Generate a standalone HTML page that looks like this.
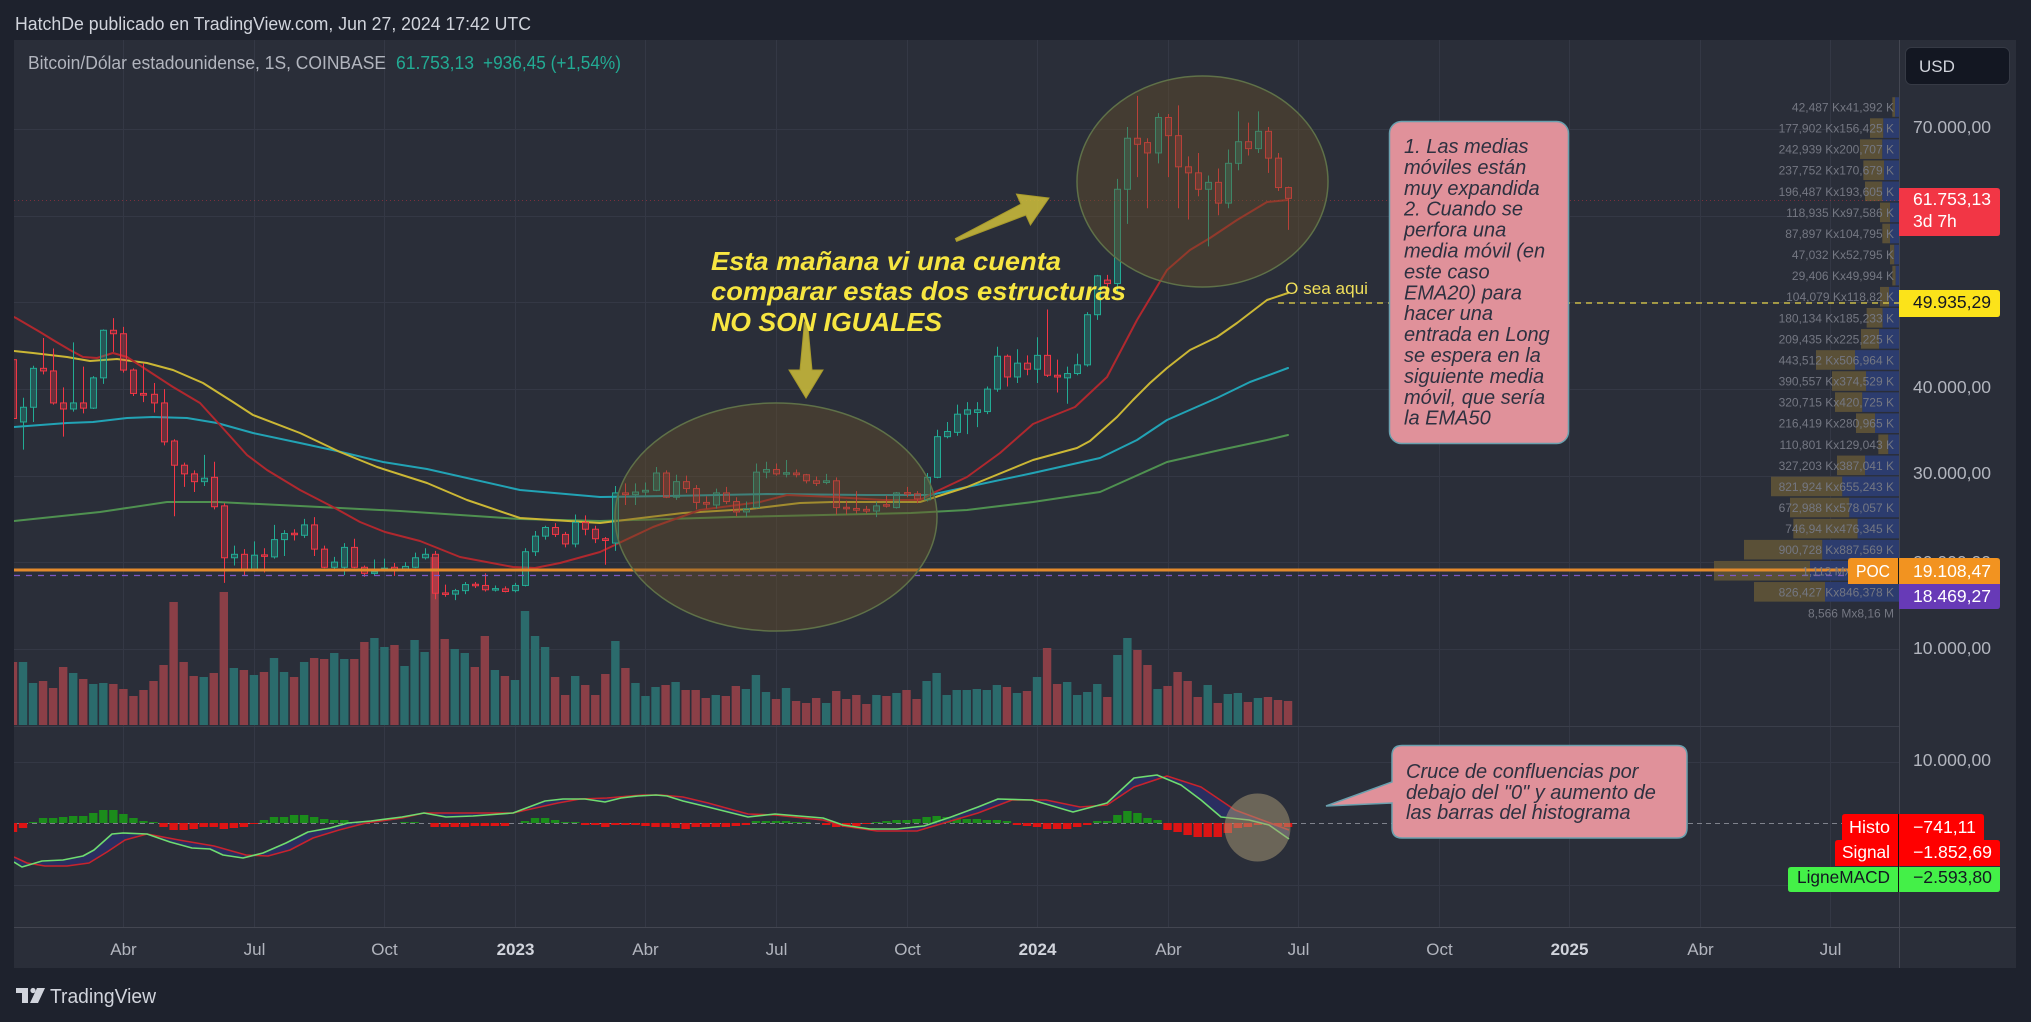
<!DOCTYPE html>
<html><head><meta charset="utf-8"><title>BTCUSD</title>
<style>
html,body{margin:0;padding:0;background:#1e222d;width:2031px;height:1022px;overflow:hidden}
svg{display:block}
text{font-family:"Liberation Sans",sans-serif}
</style></head><body>
<svg id="s" xmlns="http://www.w3.org/2000/svg" width="2031" height="1022" viewBox="0 0 2031 1022">
<defs>
<clipPath id="cm"><rect x="14" y="40" width="1885" height="686"/></clipPath>
<clipPath id="cd"><rect x="14" y="727" width="1885" height="200"/></clipPath>
</defs>
<rect width="2031" height="1022" fill="#1e222d"/>
<rect x="14" y="40" width="2002" height="928" fill="#2a2e39"/>
<g id="grid" stroke="#343845" stroke-width="1"></g>
<line x1="14" y1="726.5" x2="1899" y2="726.5" stroke="#3a3e4a"/>
<line x1="14" y1="927.5" x2="2016" y2="927.5" stroke="#434651"/>
<line x1="1899.5" y1="40" x2="1899.5" y2="968" stroke="#434651"/>

<g clip-path="url(#cm)">
  <g id="vp"></g>
  <g id="vol"></g>
  <g fill="none" stroke-width="2" stroke-linejoin="round" stroke-linecap="round">
    <polyline stroke="#4f9150" points="14,521 100,512 167,502 217,502 300,506 400,511 520,519 600,521 733,517 911,513 967,510 1033,502 1100,492 1167,462 1220,450 1267,440 1288,435"/>
    <polyline stroke="#22a3b5" points="14,427 67,423 93,422 127,418 153,417 187,418 217,423 253,433 300,443 337,451 383,462 427,469 520,490 600,497 667,496 767,494 867,495 930,495 967,487 1033,473 1100,458 1137,440 1167,420 1217,398 1250,382 1288,368"/>
    <polyline stroke="#cbb735" points="14,351 33,353 67,357 90,361 117,359 147,363 173,370 203,383 233,402 253,415 300,433 340,452 377,467 427,483 467,500 520,518 600,523 683,513 750,509 800,503 833,502 920,502 967,487 1033,460 1077,448 1090,441 1117,417 1133,400 1150,383 1167,368 1190,350 1217,337 1237,323 1267,300 1288,293"/>
    <polyline stroke="#b0282e" points="14,317 16,318 40,332 53,340 70,350 83,357 97,358 113,353 127,357 150,372 173,387 200,403 220,425 247,455 267,470 300,490 333,507 360,522 385,532 420,541 460,557 513,567 535,568 560,563 600,552 653,527 700,510 760,502 787,495 833,497 883,500 920,500 933,493 967,477 1000,453 1033,424 1050,417 1075,407 1107,377 1137,320 1167,270 1190,250 1210,238 1237,220 1267,202 1288,200"/>
  </g>
  <g id="cdl"></g>
  <line x1="14" y1="200.5" x2="1899" y2="200.5" stroke="#f23645" stroke-dasharray="1,3" opacity="0.4"/>
  <line x1="1278" y1="303" x2="1899" y2="303" stroke="#e8d44a" stroke-width="1.3" stroke-dasharray="6,5"/>
  <line x1="14" y1="575.5" x2="1899" y2="575.5" stroke="#7e57c2" stroke-width="1.3" stroke-dasharray="6,6"/>
  <line x1="14" y1="570" x2="1848" y2="570" stroke="#e38a2c" stroke-width="3"/>
  <g id="vpt" font-size="12" fill="#747782" text-anchor="end"></g>
</g>

<!-- annotations -->
<ellipse cx="776" cy="517" rx="161" ry="114" fill="rgb(105,82,40)" fill-opacity="0.42" stroke="#5f7148" stroke-width="1.5"/>
<ellipse cx="1202.5" cy="181.5" rx="125.5" ry="105.5" fill="rgb(105,82,40)" fill-opacity="0.42" stroke="#5f7148" stroke-width="1.5"/>
<g fill="#c9bb3a" fill-opacity="0.88" stroke="#a99b2c" stroke-width="1">
  <polygon transform="translate(806,322)" points="-1.5,0 1.5,0 6,48 17,48 0,76 -17,48 -6,48"/>
  <polygon transform="translate(956,240) rotate(-114.3)" points="-1.5,0 1.5,0 6,74 17,74 0,102 -17,74 -6,74"/>
</g>
<g font-weight="bold" font-style="italic" font-size="26" fill="#f7e641">
  <text x="711" y="270" textLength="350" lengthAdjust="spacingAndGlyphs">Esta mañana vi una cuenta</text>
  <text x="711" y="300" textLength="415" lengthAdjust="spacingAndGlyphs">comparar estas dos estructuras</text>
  <text x="711" y="331" textLength="231" lengthAdjust="spacingAndGlyphs">NO SON IGUALES</text>
</g>
<text x="1285" y="294" font-size="17" fill="#f0df5a" textLength="83" lengthAdjust="spacingAndGlyphs">O sea aqui</text>

<rect x="1389.5" y="121.5" width="179" height="322" rx="12" fill="#e0919a" stroke="#6aa0ae" stroke-width="1.5"/>
<g font-size="20" font-style="italic" fill="#2e3140">
  <text x="1404" y="153">1. Las medias</text>
  <text x="1404" y="173.9">móviles están</text>
  <text x="1404" y="194.8">muy expandida</text>
  <text x="1404" y="215.7">2. Cuando se</text>
  <text x="1404" y="236.6">perfora una</text>
  <text x="1404" y="257.5">media móvil (en</text>
  <text x="1404" y="278.4">este caso</text>
  <text x="1404" y="299.3">EMA20) para</text>
  <text x="1404" y="320.2">hacer una</text>
  <text x="1404" y="341.1">entrada en Long</text>
  <text x="1404" y="362">se espera en la</text>
  <text x="1404" y="382.9">siguiente media</text>
  <text x="1404" y="403.8">móvil, que sería</text>
  <text x="1404" y="424.7">la EMA50</text>
</g>

<!-- MACD -->
<g clip-path="url(#cd)">
  <line x1="14" y1="823.5" x2="1899" y2="823.5" stroke="#9598a1" stroke-dasharray="5,4" opacity="0.8"/>
  <g id="hist"></g>
  <polygon id="mfill" fill="#2b2f6e" fill-opacity="0.75" stroke="none"/>
  <polyline id="msig" fill="none" stroke="#c8232c" stroke-width="1.6" stroke-linejoin="round" points="14,857 27,863 45,866 67,866 89,863 107,852 125,840 147,834 179,840 214,846 246,855 268,856 290,850 313,838 339,830 366,823 402,818 424,813 469,813 513,813 558,803 580,799 607,798 643,795 661,795 683,797 708,803 748,814 775,815 823,820 843,826 877,831 917,831 944,823 978,813 1012,800 1046,800 1080,807 1107,805 1134,787 1167,776 1201,787 1235,810 1262,820 1289,830"/>
  <polyline id="mmacd" fill="none" stroke="#6fdc6f" stroke-width="1.6" stroke-linejoin="round" points="14,862 22,867 42,861 63,860 83,856 94,850 112,834 123,833 147,834 170,842 192,848 210,849 223,855 243,858 263,853 286,843 308,832 330,828 348,823 371,821 402,817 424,813 446,817 473,816 513,813 545,801 563,799 585,799 605,802 621,798 638,796 656,795 667,796 683,801 708,807 748,817 775,814 823,818 843,825 870,829 897,829 924,826 951,817 978,807 998,799 1032,800 1073,812 1107,803 1134,778 1157,775 1181,785 1201,800 1221,817 1249,820 1269,825 1289,839"/>
  <ellipse cx="1257.5" cy="827.5" rx="33" ry="34" fill="rgb(172,156,119)" fill-opacity="0.5"/>
</g>
<path d="M1402,745.5 H1677 Q1687,745.5 1687,755.5 V828 Q1687,838 1677,838 H1402 Q1392,838 1392,828 V803 L1326,806 L1392,782 V755.5 Q1392,745.5 1402,745.5 Z" fill="#e0919a" stroke="#6aa0ae" stroke-width="1.5"/>
<g font-size="20" font-style="italic" fill="#2e3140">
  <text x="1406" y="778">Cruce de confluencias por</text>
  <text x="1406" y="799">debajo del "0" y aumento de</text>
  <text x="1406" y="819">las barras del histograma</text>
</g>

<!-- header -->
<text x="15" y="30" font-size="18" fill="#d1d4dc" textLength="516" lengthAdjust="spacingAndGlyphs">HatchDe publicado en TradingView.com, Jun 27, 2024 17:42 UTC</text>
<text x="28" y="69" font-size="18" fill="#b2b5be" textLength="358" lengthAdjust="spacingAndGlyphs">Bitcoin/Dólar estadounidense, 1S, COINBASE</text>
<text x="396" y="69" font-size="18" fill="#22ab94" textLength="78" lengthAdjust="spacingAndGlyphs">61.753,13</text>
<text x="483" y="69" font-size="18" fill="#22ab94" textLength="138" lengthAdjust="spacingAndGlyphs">+936,45 (+1,54%)</text>

<!-- price axis -->
<rect x="1905.5" y="47.5" width="104" height="37" rx="6" fill="#131722" stroke="#363a45"/>
<text x="1919" y="72" font-size="17" fill="#d1d4dc">USD</text>
<g font-size="17.5" fill="#b2b5be">
  <text x="1913" y="133" textLength="78" lengthAdjust="spacingAndGlyphs">70.000,00</text>
  <text x="1913" y="393" textLength="78" lengthAdjust="spacingAndGlyphs">40.000,00</text>
  <text x="1913" y="479" textLength="78" lengthAdjust="spacingAndGlyphs">30.000,00</text>
  <text x="1913" y="568" textLength="78" lengthAdjust="spacingAndGlyphs">20.000,00</text>
  <text x="1913" y="654" textLength="78" lengthAdjust="spacingAndGlyphs">10.000,00</text>
  <text x="1913" y="766" textLength="78" lengthAdjust="spacingAndGlyphs">10.000,00</text>
</g>
<path d="M1899,188 H1997 Q2000,188 2000,191 V233 Q2000,236 1997,236 H1899 Z" fill="#f23645"/>
<text x="1913" y="205" font-size="17.5" fill="#ffffff" textLength="78" lengthAdjust="spacingAndGlyphs">61.753,13</text>
<text x="1913" y="227" font-size="17.5" fill="#ffffff">3d 7h</text>
<path d="M1899,290 H1997 Q2000,290 2000,293 V314 Q2000,317 1997,317 H1899 Z" fill="#fbe31a"/>
<text x="1913" y="308" font-size="17.5" fill="#131722" textLength="78" lengthAdjust="spacingAndGlyphs">49.935,29</text>
<path d="M1851,558 H1997 Q2000,558 2000,561 V584 H1848 V561 Q1848,558 1851,558 Z" fill="#f29320"/>
<path d="M1899,584 H2000 V606 Q2000,609 1997,609 H1899 Z" fill="#673ab7"/>
<line x1="1898.5" y1="558" x2="1898.5" y2="584" stroke="#1a1a1a"/>
<text x="1856" y="577" font-size="17.5" fill="#ffffff" textLength="34" lengthAdjust="spacingAndGlyphs">POC</text>
<text x="1913" y="577" font-size="17.5" fill="#ffffff" textLength="78" lengthAdjust="spacingAndGlyphs">19.108,47</text>
<text x="1913" y="602" font-size="17.5" fill="#ffffff" textLength="78" lengthAdjust="spacingAndGlyphs">18.469,27</text>

<!-- MACD labels -->
<path d="M1845,814 H1981 Q1984,814 1984,817 V840 H1842 V817 Q1842,814 1845,814 Z" fill="#ff0000"/>
<path d="M1838,840 H1997 Q2000,840 2000,843 V866 H1835 V843 Q1835,840 1838,840 Z" fill="#ff0000"/>
<path d="M1791,867 H2000 V889 Q2000,892 1997,892 H1791 Q1788,892 1788,889 V870 Q1788,867 1791,867 Z" fill="#44f048"/>
<line x1="1898.5" y1="814" x2="1898.5" y2="892" stroke="#111111"/>
<g font-size="17.5">
  <text x="1849" y="833" fill="#ffffff" textLength="41" lengthAdjust="spacingAndGlyphs">Histo</text>
  <text x="1913" y="833" fill="#ffffff" textLength="63" lengthAdjust="spacingAndGlyphs">−741,11</text>
  <text x="1842" y="858" fill="#ffffff" textLength="48" lengthAdjust="spacingAndGlyphs">Signal</text>
  <text x="1913" y="858" fill="#ffffff" textLength="79" lengthAdjust="spacingAndGlyphs">−1.852,69</text>
  <text x="1797" y="883" fill="#131722" textLength="93" lengthAdjust="spacingAndGlyphs">LigneMACD</text>
  <text x="1913" y="883" fill="#131722" textLength="79" lengthAdjust="spacingAndGlyphs">−2.593,80</text>
</g>

<!-- time axis -->
<g id="tax" font-size="17" fill="#b2b5be" text-anchor="middle"></g>

<!-- logo -->
<g fill="#d1d4dc">
  <rect x="16" y="988" width="12" height="5"/>
  <rect x="22" y="988" width="6" height="15"/>
  <circle cx="33" cy="990.5" r="2.6"/>
  <polygon points="37,988 45,988 38,1003 30,1003"/>
</g>
<text x="50" y="1003" font-size="20" fill="#d1d4dc" textLength="106" lengthAdjust="spacingAndGlyphs">TradingView</text>
</svg>
<script>
(function(){
const NS='http://www.w3.org/2000/svg';
function E(t,a,p){const e=document.createElementNS(NS,t);for(const k in a)e.setAttribute(k,a[k]);if(p)p.appendChild(e);return e;}
const X=i=>23+10.04*i, Y=p=>127+(70-p)*8.65;
const g=document.getElementById('grid');
[129,216,302,389,476,562,649,762,885].forEach(y=>E('line',{x1:14,x2:1899,y1:y+.5,y2:y+.5},g));
const vx=[10,23,36,49,62,75,88,101,114,127,141,154,167,180];
vx.forEach(i=>{const x=Math.round(X(i))+.5;E('line',{x1:x,x2:x,y1:40,y2:927},g);});
const tl=['Abr','Jul','Oct','2023','Abr','Jul','Oct','2024','Abr','Jul','Oct','2025','Abr','Jul'];
const ta=document.getElementById('tax');
vx.forEach((i,k)=>{const t=E('text',{x:Math.round(X(i))+.5,y:955},ta);t.textContent=tl[k];if(/^20/.test(tl[k])){t.setAttribute('font-weight','bold');t.setAttribute('fill','#d1d4dc');}});
const C=[[43.1,43.5,34.0,36.3],[35.9,38.7,32.7,37.6],[37.6,42.4,35.9,42.1],[42.1,45.6,41.4,41.8],[41.8,44.4,37.9,38.1],[38.1,39.9,34.2,37.4],[37.4,45.1,37.1,38.1],[38.1,42.3,36.9,37.5],[37.5,41.2,37.4,41.0],[41.0,46.6,40.3,46.5],[46.5,47.9,44.0,46.1],[46.1,46.9,41.6,41.9],[41.9,42.1,38.9,39.2],[39.2,42.7,38.2,39.0],[39.1,40.4,37.0,38.1],[38.1,39.7,33.2,33.6],[33.7,33.9,25.0,30.9],[30.9,31.2,28.4,29.9],[29.9,30.3,27.8,29.0],[29.0,32.1,28.5,29.4],[29.5,31.3,25.8,26.1],[26.2,26.5,17.3,20.2],[20.2,21.6,19.3,20.6],[20.6,21.2,18.2,18.9],[18.9,22.1,18.6,20.5],[20.5,21.3,18.5,20.4],[20.3,24.0,20.1,22.3],[22.3,23.4,20.4,23.0],[23.0,23.5,22.2,22.9],[22.8,24.7,22.5,24.0],[24.0,24.9,20.4,21.2],[21.2,21.6,19.0,19.1],[19.1,20.3,18.9,19.7],[19.1,21.9,18.2,21.4],[21.4,22.4,19.0,19.1],[19.1,19.3,18.0,18.4],[18.4,20.0,18.2,18.55],[18.7,20.1,18.6,19.0],[19.1,19.6,18.1,18.9],[18.9,19.7,18.6,19.2],[19.1,20.8,19.0,20.2],[20.2,21.3,20.0,20.6],[20.6,21.0,15.4,16.1],[16.1,17.1,15.7,16.0],[16.0,16.6,15.3,16.4],[16.4,17.4,16.0,17.1],[17.1,17.4,16.7,17.0],[17.0,18.4,16.3,16.5],[16.5,17.0,16.3,16.6],[16.6,16.9,16.2,16.3],[16.4,17.3,16.2,17.0],[17.0,21.3,16.9,20.9],[20.9,23.3,20.4,22.7],[22.7,23.9,22.3,23.7],[23.7,24.2,22.6,22.9],[22.9,23.2,21.4,21.8],[21.8,25.2,21.4,24.3],[24.3,25.1,22.8,23.5],[23.5,23.9,21.9,22.4],[22.4,22.6,19.4,22.2],[21.9,28.5,21.0,27.7],[27.7,28.8,26.3,27.5],[27.5,28.8,26.3,27.8],[27.8,28.9,27.2,28.0],[28.0,30.7,27.9,30.0],[30.0,30.3,27.1,27.2],[27.2,29.8,26.9,29.0],[29.0,29.7,27.7,28.2],[28.2,28.6,25.8,26.6],[26.6,27.3,25.9,26.4],[26.3,28.2,25.9,27.7],[27.7,28.4,26.4,26.7],[26.7,27.2,25.0,25.5],[25.5,26.7,24.9,25.9],[26.0,31.1,25.9,30.1],[30.1,31.3,29.4,30.4],[30.4,31.1,29.7,29.9],[29.9,31.5,29.5,30.0],[30.0,30.4,29.5,29.8],[29.8,29.9,28.8,29.1],[29.1,29.6,28.5,28.8],[28.9,29.9,28.7,29.1],[29.1,29.5,25.2,26.0],[26.0,26.8,25.2,25.9],[25.9,27.9,25.3,25.7],[25.8,26.2,25.3,25.6],[25.6,26.7,24.9,26.2],[26.3,27.4,26.0,26.2],[26.0,27.8,25.9,27.7],[27.7,28.4,27.2,27.6],[27.6,27.9,26.5,27.0],[26.9,30.0,26.7,29.5],[29.5,35.0,29.4,34.2],[34.2,35.9,34.0,34.8],[34.7,37.9,34.3,36.8],[36.8,38.2,34.5,37.3],[37.0,38.2,35.3,37.3],[37.1,40.0,36.8,39.7],[39.7,44.6,39.4,43.5],[43.5,43.7,40.0,41.1],[41.1,44.3,40.4,42.7],[42.7,43.6,41.3,42.0],[42.0,45.7,40.4,43.6],[43.6,48.9,41.1,41.3],[41.3,43.1,39.3,41.1],[41.0,42.3,38.0,41.5],[41.5,43.8,41.3,42.5],[42.5,48.6,42.3,48.3],[48.3,52.9,47.7,52.8],[52.3,52.9,50.6,51.9],[51.9,64.0,50.8,62.8],[62.8,70.0,58.8,68.7],[68.7,73.6,64.2,68.0],[68.2,68.7,60.6,67.0],[67.0,71.6,65.8,71.1],[71.1,71.5,64.2,69.0],[69.0,72.5,60.6,65.4],[65.4,66.6,59.3,64.7],[64.7,67.0,62.0,62.8],[62.8,64.4,56.2,63.6],[63.6,65.2,59.8,61.2],[61.2,67.4,60.6,65.8],[65.8,71.8,65.0,68.3],[68.3,70.5,66.7,67.5],[67.5,71.8,67.0,69.5],[69.5,70.0,64.7,66.4],[66.4,67.0,62.6,63.0],[63.0,63.1,58.1,61.75]];
const V=[63,63,42,44,37,58,52,46,41,42,41,36,29,35,44,60,123,63,49,48,52,133,57,55,50,53,67,53,48,63,67,66,72,66,66,83,87,78,80,59,85,73,168,86,76,72,58,89,55,49,45,114,89,78,48,30,49,40,30,51,84,57,42,29,38,40,43,35,35,27,30,29,39,36,50,33,26,37,24,22,27,22,34,26,30,21,30,29,32,35,26,44,52,30,35,35,36,35,40,38,32,34,48,77,41,43,30,33,41,28,70,87,75,60,36,39,53,44,28,40,22,31,32,23,27,28,25,24];
const HI=[9,5,-1,-5,-5,-6,-7,-7,-10,-13,-13,-9,-5,-2,-1,4,7,7,6,4,4,6,5,4,1,-3,-6,-6,-8,-8,-6,-4,-3,-3,-1,-1,0,0,0,-1,-1,0,4,4,4,4,3,3,3,3,0,-2,-5,-5,-3,-1,-1,2,2,4,2,2,2,3,4,4,5,6,4,4,4,4,3,2,-2,-2,-2,-2,-1,-1,0,2,4,4,3,1,-1,-2,-3,-3,-4,-6,-7,-6,-6,-4,-4,-3,-3,-2,2,3,4,6,6,6,4,2,-2,-2,-8,-12,-10,-5,-3,7,9,12,14,14,14,10,5,4,2,2,3,4];
const cg=document.getElementById('cdl'), vg=document.getElementById('vol'), hg=document.getElementById('hist');
C.forEach((d,k)=>{
  const i=k-1, xc=X(i), x=Math.round(xc);
  const [o,h,l,c]=d, up=c>=o, col=up?'#22ab94':'#f23645';
  let y1=Y(Math.max(o,c)), y2=Y(Math.min(o,c));
  if(y2-y1<1.5){const m=(y1+y2)/2;y1=m-.75;y2=m+.75;}
  E('line',{x1:x+.5,x2:x+.5,y1:Y(h),y2:y1,stroke:col,'stroke-width':1},cg);
  E('line',{x1:x+.5,x2:x+.5,y1:y2,y2:Y(l),stroke:col,'stroke-width':1},cg);
  E('rect',{x:x-2.5,y:y1,width:6,height:y2-y1,fill:col,'fill-opacity':0.32,stroke:col,'stroke-width':1},cg);
  const vh=V[k]; if(vh!==undefined) E('rect',{x:xc-4.2,y:725-vh,width:8.4,height:vh,fill:up?'#2b6b6c':'#8b3f47'},vg);
  const hv=HI[k]; if(hv) E('rect',{x:xc-4.2,y:hv<0?823+hv:823,width:8.4,height:Math.abs(hv),fill:hv<0?'#1b8c1b':'#dd1414'},hg);
});
const gp=document.getElementById('mmacd').getAttribute('points').trim().split(/\s+/);
const rp=document.getElementById('msig').getAttribute('points').trim().split(/\s+/).reverse();
document.getElementById('mfill').setAttribute('points',gp.concat(rp).join(' '));
const rows=[[577,585,"42,487 Kx41,392 K"],[510,550,"177,902 Kx156,425 K"],[480,547,"242,939 Kx200,707 K"],[490,552,"237,752 Kx170,679 K"],[495,547,"196,487 Kx193,605 K"],[540,570,"118,935 Kx97,586 K"],[547,570,"87,897 Kx104,795 K"],[570,583,"47,032 Kx52,795 K"],[577,587,"29,406 Kx49,994 K"],[540,567,"104,079 Kx118,82 K"],[500,548,"180,134 Kx185,233 K"],[483,537,"209,435 Kx225,225 K"],[348,465,"443,512 Kx506,964 K"],[396,498,"390,557 Kx374,529 K"],[405,487,"320,715 Kx420,725 K"],[468,525,"216,419 Kx280,965 K"],[535,565,"110,801 Kx129,043 K"],[411,495,"327,203 Kx387,041 K"],[213,427,"821,924 Kx655,243 K"],[270,448,"672,988 Kx578,057 K"],[280,473,"746,94 Kx476,345 K"],[132,367,"900,728 Kx887,569 K"],[42,330,"1,113 Mx1,056 M"],[162,375,"826,427 Kx846,378 K"]];
const vp=document.getElementById('vp'), vt=document.getElementById('vpt');
rows.forEach((r,k)=>{
  const cy=107+21.08*k, bl=1700+r[0]/3, sp=1700+r[1]/3;
  E('rect',{x:bl,y:cy-9.8,width:sp-bl,height:19.6,fill:'#5a5037'},vp);
  E('rect',{x:sp,y:cy-9.8,width:1899-sp,height:19.6,fill:'#2c3c6e'},vp);
  const t=E('text',{x:1894,y:cy+4.5},vt); t.textContent=r[2];
});
const t=E('text',{x:1894,y:107+21.08*24+4.5},vt); t.textContent="8,566 Mx8,16 M";
})();
</script>
</body></html>
